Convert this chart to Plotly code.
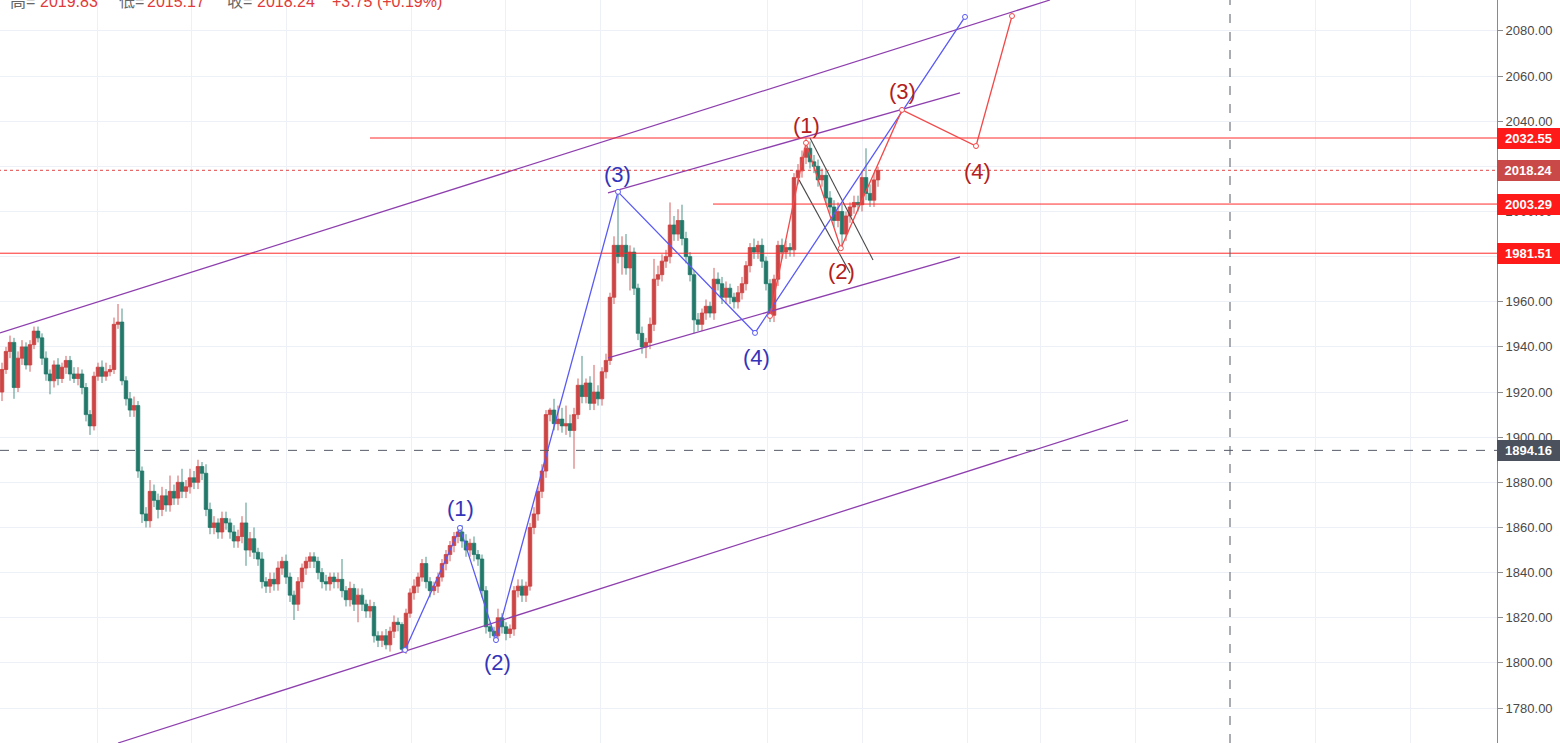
import plotly.graph_objects as go

# ---------------- data ----------------
FIRST_OPEN = 1920
CLOSE = [
    1930, 1938, 1942, 1922, 1935, 1940, 1932, 1941, 1947, 1944,
    1935, 1928, 1925, 1932, 1926, 1931, 1934, 1928, 1926, 1928,
    1922, 1910, 1905, 1927, 1931, 1927, 1929, 1930, 1950, 1951,
    1925, 1917, 1912, 1914, 1885, 1866, 1863, 1876, 1872, 1868,
    1874, 1870, 1876, 1873, 1880, 1876, 1878, 1882, 1880, 1887,
    1884, 1868, 1860, 1862, 1858, 1864, 1862, 1858, 1854, 1856,
    1862, 1850, 1855, 1849, 1846, 1836, 1834, 1837, 1835, 1842,
    1845, 1838, 1830, 1826, 1836, 1842, 1845, 1847, 1845, 1840,
    1836, 1835, 1838, 1836, 1837, 1832, 1828, 1833, 1826, 1830,
    1826, 1823, 1825, 1812, 1810, 1812, 1808, 1814, 1818, 1817,
    1806, 1822, 1831, 1834, 1838, 1844, 1836, 1832, 1834, 1838,
    1844, 1848, 1852, 1856, 1858, 1854, 1850, 1853, 1848, 1846,
    1832, 1816, 1814, 1812, 1820, 1816, 1813, 1815, 1832, 1834,
    1830, 1834, 1860, 1866, 1876, 1885, 1910, 1912, 1906, 1908,
    1905, 1906, 1903, 1910, 1923, 1918, 1924, 1915, 1920, 1917,
    1929, 1934, 1962, 1985, 1980, 1985, 1975, 1982, 1966, 1946,
    1940, 1942, 1950, 1970, 1972, 1978, 1980, 1994, 1990, 1996,
    1988, 1980, 1972, 1952, 1950, 1955, 1958, 1955, 1970, 1968,
    1962, 1966, 1962, 1960, 1964, 1968, 1976, 1984, 1982, 1985,
    1978, 1968, 1954, 1970, 1985, 1982, 1984, 1983, 2015, 2018,
    2024, 2028, 2022, 2020, 2014, 2016, 2006, 2002, 1996, 2000,
    1990, 1998, 2002, 2004, 2003, 2015, 2008, 2005, 2014, 2018.24,
]
WICK_UP = [
    3, 2, 3, 2, 3, 3, 2, 2, 2, 2,
    2, 3, 2, 2, 3, 2, 2, 2, 3, 3,
    2, 2, 2, 2, 2, 3, 4, 2, 3, 8,
    6, 2, 3, 4, 2, 2, 3, 5, 3, 3,
    4, 3, 7, 3, 3, 6, 3, 4, 3, 3,
    2, 4, 3, 3, 2, 3, 3, 2, 3, 3,
    3, 9, 3, 5, 2, 3, 2, 3, 3, 3,
    2, 3, 2, 2, 2, 2, 2, 2, 2, 2,
    2, 3, 2, 2, 3, 9, 2, 3, 2, 3,
    3, 2, 3, 2, 2, 2, 3, 2, 3, 2,
    1, 2, 2, 3, 2, 2, 3, 2, 2, 2,
    2, 2, 2, 2, 2, 3, 3, 2, 3, 2,
    2, 2, 2, 2, 4, 2, 2, 2, 2, 3,
    3, 2, 2, 3, 2, 3, 2, 1, 5, 6,
    5, 8, 4, 3, 3, 13, 2, 3, 12, 3,
    2, 3, 2, 4, 23, 4, 5, 3, 2, 2,
    3, 2, 3, 9, 4, 3, 3, 10, 4, 5,
    7, 3, 2, 2, 3, 2, 3, 2, 5, 3,
    3, 3, 2, 2, 3, 3, 2, 2, 4, 2,
    3, 2, 2, 2, 2, 3, 3, 2, 2, 3,
    3, 4.5, 3, 3, 3, 3, 3, 3, 3, 4,
    3, 2, 2, 3, 3, 3, 13, 4, 3, 1.6,
]
WICK_DN = [
    4, 2, 3, 5, 2, 3, 2, 3, 2, 2,
    3, 3, 6, 3, 3, 2, 3, 3, 2, 3,
    3, 3, 4, 2, 2, 3, 2, 2, 2, 2,
    2, 3, 3, 3, 3, 4, 3, 3, 3, 4,
    3, 3, 3, 3, 3, 3, 3, 3, 3, 3,
    3, 3, 3, 3, 3, 3, 3, 3, 3, 3,
    3, 7, 3, 3, 3, 3, 3, 3, 3, 3,
    3, 3, 3, 7, 3, 3, 3, 3, 3, 3,
    3, 3, 3, 3, 3, 3, 3, 3, 3, 8,
    3, 3, 3, 3, 3, 3, 2, 3, 3, 3,
    1, 2, 2, 3, 3, 2, 3, 3, 2, 3,
    2, 3, 3, 3, 3, 3, 3, 3, 3, 3,
    3, 3, 3, 2, 2, 3, 3, 2, 3, 3,
    3, 3, 2, 3, 3, 3, 3, 3, 3, 3,
    3, 4, 3, 17, 2, 3, 3, 3, 3, 3,
    3, 3, 2, 3, 3, 8, 3, 10, 3, 3,
    3, 5, 3, 3, 3, 3, 3, 3, 3, 3,
    3, 3, 3, 6, 3, 3, 3, 2, 3, 3,
    3, 3, 3, 3, 3, 3, 3, 3, 3, 3,
    3, 3, 3, 3, 3, 3, 3, 3, 3, 3,
    3, 3, 3, 3, 3, 3, 3, 3, 3, 3,
    6, 3, 3, 3, 3, 3, 3, 3, 3, 3.07,
]

# channel / trend lines: (x0, y0, x1, y1) in bar-index / price units
PURPLE_LINES = [
    (-0.5, 1946.2, 262.0, 2093.7),
    (151.5, 2008.2, 239.5, 2052.5),
    (151.5, 1935.1, 239.5, 1979.9),
    (29.0, 1764.5, 281.5, 1907.6),
]
DARK_LINES = [
    (202.0, 2032.6, 217.75, 1978.5),
    (199.25, 2014.0, 212.0, 1972.8),
]

BLUE_X = [100.75, 114.5, 123.5, 154.0, 188.25, 240.75]
BLUE_Y = [1805.7, 1859.8, 1810.1, 2008.7, 1946.2, 2086.2]
BLUE_LABEL_X = [114.5, 123.75, 153.75, 188.5, 241.0]
BLUE_LABEL_Y = [1868.6, 1800.0, 2016.2, 1935.5, 2095.0]

RED_X = [192.0, 201.0, 209.7, 225.0, 243.5, 252.5]
RED_Y = [1953.7, 2030.4, 1983.7, 2045.0, 2029.0, 2086.6]
RED_LABEL_X = [201.0, 209.75, 225.0, 243.75, 252.5]
RED_LABEL_Y = [2038.3, 1973.2, 2053.0, 2017.5, 2095.0]
WAVE_TEXT = ["(1)", "(2)", "(3)", "(4)", "(5)"]

LEVELS = [2032.55, 2003.29, 1981.51]
LEVEL_START = [92.0, 177.75, -0.5]
LAST_PRICE = 2018.24
CROSS_PRICE = 1894.16
CROSS_X = 307.0

Y_TICKS = list(range(1780, 2081, 20))
X_GRID = [23.75, 47.25, 71.0, 102.25, 125.75, 149.5, 191.25, 215.0, 241.25,
          259.5, 283.25, 328.25, 352.0]

# header: (text, colour kind, left pixel)
HEADER_TEXT = ["高=", "2019.83", "低=", "2015.17", "收=", "2018.24", "+3.75 (+0.19%)"]
HEADER_KIND = ["label", "value", "label", "value", "label", "value", "value"]
HEADER_PX = [8, 38, 117, 145, 225, 255, 330]

# ---------------- figure ----------------
opens = [FIRST_OPEN] + CLOSE[:-1]
highs = [max(o, c) + u for o, c, u in zip(opens, CLOSE, WICK_UP)]
lows = [min(o, c) - d for o, c, d in zip(opens, CLOSE, WICK_DN)]
idx = list(range(len(CLOSE)))

PLOT_W = 1497
UP = "#cc4444"
DN = "#22796a"
PURPLE = "#8e3fae"
BLUE = "#5a5af5"
REDW = "#f24a4a"
HRED = "#ff2a2a"

fig = go.Figure()
fig.add_trace(go.Candlestick(
    x=idx, open=opens, high=highs, low=lows, close=CLOSE,
    increasing=dict(line=dict(color="rgba(204,68,68,0.85)", width=1), fillcolor=UP),
    decreasing=dict(line=dict(color="rgba(34,121,106,0.8)", width=1), fillcolor=DN),
    whiskerwidth=0, showlegend=False, hoverinfo="skip",
))

for (x0, y0, x1, y1) in PURPLE_LINES:
    fig.add_trace(go.Scatter(x=[x0, x1], y=[y0, y1], mode="lines",
                             line=dict(color=PURPLE, width=1.3), showlegend=False, hoverinfo="skip"))
for (x0, y0, x1, y1) in DARK_LINES:
    fig.add_trace(go.Scatter(x=[x0, x1], y=[y0, y1], mode="lines",
                             line=dict(color="#4a4a4a", width=1.1), showlegend=False, hoverinfo="skip"))

for lv, xs in zip(LEVELS, LEVEL_START):
    fig.add_trace(go.Scatter(x=[xs, 400], y=[lv, lv], mode="lines",
                             line=dict(color=HRED, width=1), showlegend=False, hoverinfo="skip"))
fig.add_trace(go.Scatter(x=[-1, 400], y=[LAST_PRICE, LAST_PRICE], mode="lines",
                         line=dict(color="#e04545", width=1, dash="dot"), showlegend=False, hoverinfo="skip"))

fig.add_trace(go.Scatter(x=BLUE_X, y=BLUE_Y, mode="lines+markers",
                         line=dict(color=BLUE, width=1.3),
                         marker=dict(size=5, color="white", line=dict(color=BLUE, width=1)),
                         showlegend=False, hoverinfo="skip"))
fig.add_trace(go.Scatter(x=RED_X, y=RED_Y, mode="lines+markers",
                         line=dict(color=REDW, width=1.3),
                         marker=dict(size=5, color="white", line=dict(color=REDW, width=1)),
                         showlegend=False, hoverinfo="skip"))

fig.add_shape(type="line", xref="paper", x0=0, x1=1, yref="y", y0=CROSS_PRICE, y1=CROSS_PRICE,
              line=dict(color="#555b66", width=1, dash="dash"))
fig.add_shape(type="line", xref="x", x0=CROSS_X, x1=CROSS_X, yref="paper", y0=0, y1=1,
              line=dict(color="#555b66", width=1, dash="dash"))

annotations = []
for t, x, y in zip(WAVE_TEXT, BLUE_LABEL_X, BLUE_LABEL_Y):
    annotations.append(dict(x=x, y=y, xref="x", yref="y", text=t, showarrow=False,
                            font=dict(size=22, color="#3434b8", family="Liberation Sans, Arial")))
for t, x, y in zip(WAVE_TEXT, RED_LABEL_X, RED_LABEL_Y):
    annotations.append(dict(x=x, y=y, xref="x", yref="y", text=t, showarrow=False,
                            font=dict(size=22, color="#b32020", family="Liberation Sans, Arial")))


def price_box(price, bg):
    return dict(x=1, xref="paper", xanchor="left", y=price, yref="y", yanchor="middle",
                text="<b>%.2f</b>" % price, showarrow=False, bgcolor=bg, bordercolor=bg,
                borderpad=2, width=57, height=15, align="center",
                font=dict(size=13, color="white", family="Liberation Sans, Arial"))


for lv in LEVELS:
    annotations.append(price_box(lv, "#ff1a1a"))
annotations.append(price_box(LAST_PRICE, "#c94848"))
annotations.append(price_box(CROSS_PRICE, "#4b515d"))

for t, k, px in zip(HEADER_TEXT, HEADER_KIND, HEADER_PX):
    annotations.append(dict(x=px / PLOT_W, xref="paper", xanchor="left", y=1, yref="paper",
                            yanchor="bottom", yshift=-12, text=t, showarrow=False,
                            font=dict(size=16, color="#666666" if k == "label" else "#e03a3a",
                                      family="Liberation Sans, Noto Sans CJK SC, Arial")))

fig.update_layout(
    width=1560, height=743,
    margin=dict(l=0, r=1560 - PLOT_W, t=0, b=0),
    paper_bgcolor="white", plot_bgcolor="white",
    annotations=annotations,
    boxgap=0.12, boxgroupgap=0,
    xaxis=dict(range=[-0.5, 373.75], showticklabels=False, tickvals=X_GRID,
               showgrid=True, gridcolor="#edf1f7", gridwidth=1, zeroline=False,
               rangeslider=dict(visible=False), fixedrange=True),
    yaxis=dict(side="right", range=[1764.5, 2093.7], tickvals=Y_TICKS,
               ticktext=["%.2f" % v for v in Y_TICKS], ticks="outside", ticklen=5,
               tickcolor="#8a8a8a", showline=True, linecolor="#8a8a8a", linewidth=1,
               showgrid=True, gridcolor="#edf1f7", zeroline=False,
               tickfont=dict(size=13, color="#4a4a4a", family="Liberation Sans, Arial")),
    hovermode=False,
)

fig.write_html("out.html", config={"displayModeBar": False},
               post_script="document.body.style.margin='0px';document.body.style.overflow='hidden';")
